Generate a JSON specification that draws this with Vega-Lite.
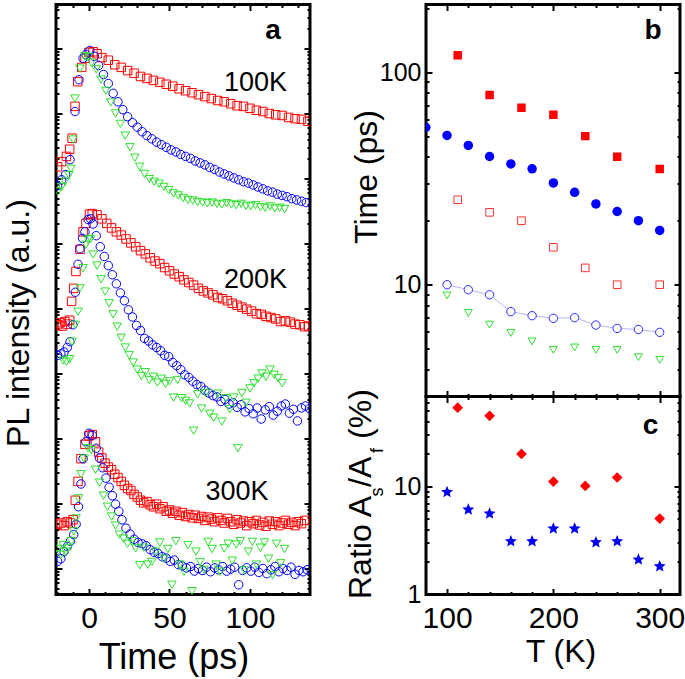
{
"$schema":"https://vega.github.io/schema/vega-lite/v6.json",
"padding":{"left":0,"top":1.5,"right":0,"bottom":0},
"background":"white",
"config":{
 "view":{"stroke":"black","strokeWidth":3},
 "font":"Liberation Sans",
 "axis":{"domain":false,"grid":false,"tickColor":"black","tickWidth":2,"labelColor":"black","titleColor":"black","labelFont":"Liberation Sans","titleFont":"Liberation Sans","titleFontWeight":"normal","labelFlush":false,"labelOverlap":false}
},
"datasets":{
"pl":[
{"g":"100K","s":"sq","t":-19.5,"y":6.18},{"g":"100K","s":"sq","t":-17,"y":6.26},{"g":"100K","s":"sq","t":-14,"y":6.34},{"g":"100K","s":"sq","t":-12,"y":6.45},{"g":"100K","s":"sq","t":-10.5,"y":6.62},{"g":"100K","s":"sq","t":-8.7,"y":7.11},{"g":"100K","s":"sq","t":-7,"y":7.49},{"g":"100K","s":"sq","t":-4.5,"y":7.71},{"g":"100K","s":"sq","t":-2.5,"y":7.85},{"g":"100K","s":"sq","t":0,"y":7.94},{"g":"100K","s":"sq","t":2.5,"y":7.95},{"g":"100K","s":"sq","t":5,"y":7.92},{"g":"100K","s":"sq","t":8,"y":7.86},{"g":"100K","s":"sq","t":12,"y":7.82},{"g":"100K","s":"sq","t":16,"y":7.75},{"g":"100K","s":"sq","t":20,"y":7.71},{"g":"100K","s":"sq","t":24,"y":7.66},{"g":"100K","s":"sq","t":28,"y":7.62},{"g":"100K","s":"sq","t":32,"y":7.57},{"g":"100K","s":"sq","t":36,"y":7.54},{"g":"100K","s":"sq","t":40,"y":7.51},{"g":"100K","s":"sq","t":44,"y":7.48},{"g":"100K","s":"sq","t":48,"y":7.45},{"g":"100K","s":"sq","t":52,"y":7.42},{"g":"100K","s":"sq","t":56,"y":7.38},{"g":"100K","s":"sq","t":60,"y":7.35},{"g":"100K","s":"sq","t":64,"y":7.32},{"g":"100K","s":"sq","t":68,"y":7.29},{"g":"100K","s":"sq","t":72,"y":7.26},{"g":"100K","s":"sq","t":76,"y":7.23},{"g":"100K","s":"sq","t":80,"y":7.2},{"g":"100K","s":"sq","t":84,"y":7.18},{"g":"100K","s":"sq","t":88,"y":7.15},{"g":"100K","s":"sq","t":92,"y":7.12},{"g":"100K","s":"sq","t":96,"y":7.11},{"g":"100K","s":"sq","t":100,"y":7.08},{"g":"100K","s":"sq","t":104,"y":7.05},{"g":"100K","s":"sq","t":108,"y":7.03},{"g":"100K","s":"sq","t":112,"y":7.0},{"g":"100K","s":"sq","t":116,"y":6.98},{"g":"100K","s":"sq","t":120,"y":6.97},{"g":"100K","s":"sq","t":124,"y":6.94},{"g":"100K","s":"sq","t":128,"y":6.92},{"g":"100K","s":"sq","t":132,"y":6.91},{"g":"100K","s":"sq","t":136,"y":6.88},
{"g":"100K","s":"ci","t":-19.5,"y":5.89},{"g":"100K","s":"ci","t":-17,"y":5.98},{"g":"100K","s":"ci","t":-14.5,"y":6.06},{"g":"100K","s":"ci","t":-11.8,"y":6.29},{"g":"100K","s":"ci","t":-8.7,"y":7.03},{"g":"100K","s":"ci","t":-6.2,"y":7.52},{"g":"100K","s":"ci","t":-3.7,"y":7.85},{"g":"100K","s":"ci","t":-1.9,"y":7.91},{"g":"100K","s":"ci","t":0.6,"y":7.97},{"g":"100K","s":"ci","t":3.3,"y":7.88},{"g":"100K","s":"ci","t":6,"y":7.74},{"g":"100K","s":"ci","t":9,"y":7.6},{"g":"100K","s":"ci","t":12,"y":7.46},{"g":"100K","s":"ci","t":15,"y":7.31},{"g":"100K","s":"ci","t":18,"y":7.18},{"g":"100K","s":"ci","t":21,"y":7.06},{"g":"100K","s":"ci","t":24,"y":6.95},{"g":"100K","s":"ci","t":27,"y":6.86},{"g":"100K","s":"ci","t":30,"y":6.79},{"g":"100K","s":"ci","t":33,"y":6.72},{"g":"100K","s":"ci","t":36,"y":6.66},{"g":"100K","s":"ci","t":39,"y":6.61},{"g":"100K","s":"ci","t":42,"y":6.56},{"g":"100K","s":"ci","t":45,"y":6.52},{"g":"100K","s":"ci","t":48,"y":6.48},{"g":"100K","s":"ci","t":51,"y":6.44},{"g":"100K","s":"ci","t":54,"y":6.41},{"g":"100K","s":"ci","t":57,"y":6.37},{"g":"100K","s":"ci","t":60,"y":6.34},{"g":"100K","s":"ci","t":63,"y":6.31},{"g":"100K","s":"ci","t":66,"y":6.27},{"g":"100K","s":"ci","t":69,"y":6.24},{"g":"100K","s":"ci","t":72,"y":6.21},{"g":"100K","s":"ci","t":75,"y":6.17},{"g":"100K","s":"ci","t":78,"y":6.14},{"g":"100K","s":"ci","t":81,"y":6.1},{"g":"100K","s":"ci","t":84,"y":6.07},{"g":"100K","s":"ci","t":87,"y":6.04},{"g":"100K","s":"ci","t":90,"y":6.01},{"g":"100K","s":"ci","t":93,"y":5.98},{"g":"100K","s":"ci","t":96,"y":5.95},{"g":"100K","s":"ci","t":99,"y":5.93},{"g":"100K","s":"ci","t":102,"y":5.9},{"g":"100K","s":"ci","t":105,"y":5.87},{"g":"100K","s":"ci","t":108,"y":5.84},{"g":"100K","s":"ci","t":111,"y":5.81},{"g":"100K","s":"ci","t":114,"y":5.79},{"g":"100K","s":"ci","t":117,"y":5.76},{"g":"100K","s":"ci","t":120,"y":5.74},{"g":"100K","s":"ci","t":123,"y":5.72},{"g":"100K","s":"ci","t":126,"y":5.69},{"g":"100K","s":"ci","t":129,"y":5.67},{"g":"100K","s":"ci","t":132,"y":5.65},{"g":"100K","s":"ci","t":135,"y":5.63},
{"g":"100K","s":"tr","t":-19.3,"y":5.8},{"g":"100K","s":"tr","t":-17,"y":5.87},{"g":"100K","s":"tr","t":-14.9,"y":5.95},{"g":"100K","s":"tr","t":-12.5,"y":6.05},{"g":"100K","s":"tr","t":-11.2,"y":6.15},{"g":"100K","s":"tr","t":-9.9,"y":6.6},{"g":"100K","s":"tr","t":-8.7,"y":7.23},{"g":"100K","s":"tr","t":-5.6,"y":7.69},{"g":"100K","s":"tr","t":-2.5,"y":7.88},{"g":"100K","s":"tr","t":-0.3,"y":7.87},{"g":"100K","s":"tr","t":1.5,"y":7.78},{"g":"100K","s":"tr","t":4.5,"y":7.68},{"g":"100K","s":"tr","t":7.5,"y":7.52},{"g":"100K","s":"tr","t":10.5,"y":7.35},{"g":"100K","s":"tr","t":13.5,"y":7.17},{"g":"100K","s":"tr","t":16.5,"y":7.0},{"g":"100K","s":"tr","t":19.5,"y":6.84},{"g":"100K","s":"tr","t":22.5,"y":6.66},{"g":"100K","s":"tr","t":25.5,"y":6.48},{"g":"100K","s":"tr","t":28.5,"y":6.32},{"g":"100K","s":"tr","t":31.5,"y":6.18},{"g":"100K","s":"tr","t":34.5,"y":6.07},{"g":"100K","s":"tr","t":37.5,"y":5.99},{"g":"100K","s":"tr","t":40.5,"y":5.95},{"g":"100K","s":"tr","t":43.5,"y":5.92},{"g":"100K","s":"tr","t":46.5,"y":5.87},{"g":"100K","s":"tr","t":49.5,"y":5.82},{"g":"100K","s":"tr","t":52.5,"y":5.77},{"g":"100K","s":"tr","t":55.5,"y":5.74},{"g":"100K","s":"tr","t":58.5,"y":5.7},{"g":"100K","s":"tr","t":61.5,"y":5.67},{"g":"100K","s":"tr","t":64.5,"y":5.66},{"g":"100K","s":"tr","t":67.5,"y":5.64},{"g":"100K","s":"tr","t":70.5,"y":5.63},{"g":"100K","s":"tr","t":73.5,"y":5.62},{"g":"100K","s":"tr","t":76.5,"y":5.63},{"g":"100K","s":"tr","t":79.5,"y":5.61},{"g":"100K","s":"tr","t":82.5,"y":5.6},{"g":"100K","s":"tr","t":85.5,"y":5.62},{"g":"100K","s":"tr","t":88.5,"y":5.6},{"g":"100K","s":"tr","t":91.5,"y":5.59},{"g":"100K","s":"tr","t":94.5,"y":5.61},{"g":"100K","s":"tr","t":97.5,"y":5.58},{"g":"100K","s":"tr","t":100.5,"y":5.57},{"g":"100K","s":"tr","t":103.5,"y":5.59},{"g":"100K","s":"tr","t":106.5,"y":5.56},{"g":"100K","s":"tr","t":109.5,"y":5.55},{"g":"100K","s":"tr","t":112.5,"y":5.57},{"g":"100K","s":"tr","t":115.5,"y":5.54},{"g":"100K","s":"tr","t":118.5,"y":5.55},{"g":"100K","s":"tr","t":121.5,"y":5.53},
{"g":"200K","s":"sq","t":-19.5,"y":3.75},{"g":"200K","s":"sq","t":-18,"y":3.78},{"g":"200K","s":"sq","t":-16.5,"y":3.73},{"g":"200K","s":"sq","t":-15,"y":3.8},{"g":"200K","s":"sq","t":-13.5,"y":3.76},{"g":"200K","s":"sq","t":-12,"y":3.82},{"g":"200K","s":"sq","t":-10.8,"y":4.11},{"g":"200K","s":"sq","t":-9.5,"y":4.31},{"g":"200K","s":"sq","t":-8.1,"y":4.57},{"g":"200K","s":"sq","t":-5.6,"y":4.91},{"g":"200K","s":"sq","t":-3.7,"y":5.18},{"g":"200K","s":"sq","t":-1.9,"y":5.31},{"g":"200K","s":"sq","t":0.3,"y":5.45},{"g":"200K","s":"sq","t":2,"y":5.46},{"g":"200K","s":"sq","t":5,"y":5.44},{"g":"200K","s":"sq","t":8,"y":5.38},{"g":"200K","s":"sq","t":11,"y":5.31},{"g":"200K","s":"sq","t":14,"y":5.24},{"g":"200K","s":"sq","t":17,"y":5.18},{"g":"200K","s":"sq","t":20,"y":5.13},{"g":"200K","s":"sq","t":23,"y":5.07},{"g":"200K","s":"sq","t":26,"y":5.01},{"g":"200K","s":"sq","t":29,"y":4.95},{"g":"200K","s":"sq","t":32,"y":4.89},{"g":"200K","s":"sq","t":35,"y":4.84},{"g":"200K","s":"sq","t":38,"y":4.78},{"g":"200K","s":"sq","t":41,"y":4.73},{"g":"200K","s":"sq","t":44,"y":4.69},{"g":"200K","s":"sq","t":47,"y":4.63},{"g":"200K","s":"sq","t":50,"y":4.58},{"g":"200K","s":"sq","t":53,"y":4.53},{"g":"200K","s":"sq","t":56,"y":4.49},{"g":"200K","s":"sq","t":59,"y":4.44},{"g":"200K","s":"sq","t":62,"y":4.4},{"g":"200K","s":"sq","t":65,"y":4.36},{"g":"200K","s":"sq","t":68,"y":4.31},{"g":"200K","s":"sq","t":71,"y":4.27},{"g":"200K","s":"sq","t":74,"y":4.24},{"g":"200K","s":"sq","t":77,"y":4.21},{"g":"200K","s":"sq","t":80,"y":4.17},{"g":"200K","s":"sq","t":83,"y":4.15},{"g":"200K","s":"sq","t":86,"y":4.12},{"g":"200K","s":"sq","t":89,"y":4.08},{"g":"200K","s":"sq","t":92,"y":4.05},{"g":"200K","s":"sq","t":95,"y":4.02},{"g":"200K","s":"sq","t":98,"y":3.99},{"g":"200K","s":"sq","t":101,"y":3.96},{"g":"200K","s":"sq","t":104,"y":3.92},{"g":"200K","s":"sq","t":107,"y":3.91},{"g":"200K","s":"sq","t":110,"y":3.88},{"g":"200K","s":"sq","t":113,"y":3.86},{"g":"200K","s":"sq","t":116,"y":3.84},{"g":"200K","s":"sq","t":119,"y":3.8},{"g":"200K","s":"sq","t":122,"y":3.81},{"g":"200K","s":"sq","t":125,"y":3.79},{"g":"200K","s":"sq","t":128,"y":3.76},{"g":"200K","s":"sq","t":131,"y":3.75},{"g":"200K","s":"sq","t":134,"y":3.72},{"g":"200K","s":"sq","t":136.5,"y":3.73},
{"g":"200K","s":"ci","t":-19.5,"y":3.28},{"g":"200K","s":"ci","t":-17.5,"y":3.3},{"g":"200K","s":"ci","t":-15.5,"y":3.33},{"g":"200K","s":"ci","t":-13.5,"y":3.4},{"g":"200K","s":"ci","t":-11.8,"y":3.49},{"g":"200K","s":"ci","t":-10,"y":3.75},{"g":"200K","s":"ci","t":-8.5,"y":4.25},{"g":"200K","s":"ci","t":-6.8,"y":4.68},{"g":"200K","s":"ci","t":-5.6,"y":4.92},{"g":"200K","s":"ci","t":-4,"y":5.08},{"g":"200K","s":"ci","t":-2.5,"y":5.18},{"g":"200K","s":"ci","t":-0.6,"y":5.37},{"g":"200K","s":"ci","t":1,"y":5.38},{"g":"200K","s":"ci","t":2.5,"y":5.3},{"g":"200K","s":"ci","t":4.5,"y":5.12},{"g":"200K","s":"ci","t":7,"y":4.95},{"g":"200K","s":"ci","t":9.5,"y":4.8},{"g":"200K","s":"ci","t":12,"y":4.66},{"g":"200K","s":"ci","t":14.5,"y":4.52},{"g":"200K","s":"ci","t":17,"y":4.38},{"g":"200K","s":"ci","t":19.5,"y":4.24},{"g":"200K","s":"ci","t":22,"y":4.12},{"g":"200K","s":"ci","t":24.5,"y":3.98},{"g":"200K","s":"ci","t":27,"y":3.87},{"g":"200K","s":"ci","t":29.5,"y":3.74},{"g":"200K","s":"ci","t":32,"y":3.66},{"g":"200K","s":"ci","t":34.5,"y":3.54},{"g":"200K","s":"ci","t":37,"y":3.5},{"g":"200K","s":"ci","t":39.5,"y":3.44},{"g":"200K","s":"ci","t":42,"y":3.4},{"g":"200K","s":"ci","t":44.5,"y":3.35},{"g":"200K","s":"ci","t":47,"y":3.28},{"g":"200K","s":"ci","t":49.5,"y":3.26},{"g":"200K","s":"ci","t":52,"y":3.17},{"g":"200K","s":"ci","t":54.5,"y":3.12},{"g":"200K","s":"ci","t":57,"y":3.06},{"g":"200K","s":"ci","t":59.5,"y":2.98},{"g":"200K","s":"ci","t":62,"y":2.94},{"g":"200K","s":"ci","t":64.5,"y":2.88},{"g":"200K","s":"ci","t":67,"y":2.83},{"g":"200K","s":"ci","t":69.5,"y":2.8},{"g":"200K","s":"ci","t":72,"y":2.74},{"g":"200K","s":"ci","t":74.5,"y":2.7},{"g":"200K","s":"ci","t":77,"y":2.66},{"g":"200K","s":"ci","t":79.5,"y":2.64},{"g":"200K","s":"ci","t":82,"y":2.57},{"g":"200K","s":"ci","t":84.5,"y":2.6},{"g":"200K","s":"ci","t":87,"y":2.53},{"g":"200K","s":"ci","t":89.5,"y":2.55},{"g":"200K","s":"ci","t":92,"y":2.48},{"g":"200K","s":"ci","t":94.5,"y":2.52},{"g":"200K","s":"ci","t":97,"y":2.41},{"g":"200K","s":"ci","t":99.5,"y":2.46},{"g":"200K","s":"ci","t":102,"y":2.38},{"g":"200K","s":"ci","t":104.5,"y":2.47},{"g":"200K","s":"ci","t":107,"y":2.3},{"g":"200K","s":"ci","t":109.5,"y":2.44},{"g":"200K","s":"ci","t":112,"y":2.49},{"g":"200K","s":"ci","t":114.5,"y":2.36},{"g":"200K","s":"ci","t":117,"y":2.42},{"g":"200K","s":"ci","t":119.5,"y":2.5},{"g":"200K","s":"ci","t":122,"y":2.53},{"g":"200K","s":"ci","t":124.5,"y":2.39},{"g":"200K","s":"ci","t":127,"y":2.45},{"g":"200K","s":"ci","t":129.5,"y":2.27},{"g":"200K","s":"ci","t":132,"y":2.47},{"g":"200K","s":"ci","t":134.5,"y":2.5},{"g":"200K","s":"ci","t":137,"y":2.46},
{"g":"200K","s":"tr","t":-16,"y":3.2},{"g":"200K","s":"tr","t":-14,"y":3.18},{"g":"200K","s":"tr","t":-12,"y":3.22},{"g":"200K","s":"tr","t":-10.5,"y":3.49},{"g":"200K","s":"tr","t":-8.5,"y":3.75},{"g":"200K","s":"tr","t":-6.8,"y":3.95},{"g":"200K","s":"tr","t":-5.6,"y":4.31},{"g":"200K","s":"tr","t":-3.7,"y":4.62},{"g":"200K","s":"tr","t":-1.9,"y":4.98},{"g":"200K","s":"tr","t":-0.6,"y":5.06},{"g":"200K","s":"tr","t":1,"y":5.07},{"g":"200K","s":"tr","t":2.5,"y":4.83},{"g":"200K","s":"tr","t":5,"y":4.66},{"g":"200K","s":"tr","t":7.5,"y":4.45},{"g":"200K","s":"tr","t":10,"y":4.26},{"g":"200K","s":"tr","t":12.5,"y":4.08},{"g":"200K","s":"tr","t":15,"y":3.91},{"g":"200K","s":"tr","t":17.5,"y":3.72},{"g":"200K","s":"tr","t":20,"y":3.55},{"g":"200K","s":"tr","t":22.5,"y":3.4},{"g":"200K","s":"tr","t":25,"y":3.28},{"g":"200K","s":"tr","t":27.5,"y":3.17},{"g":"200K","s":"tr","t":30,"y":3.06},{"g":"200K","s":"tr","t":32.5,"y":2.96},{"g":"200K","s":"tr","t":35,"y":3.02},{"g":"200K","s":"tr","t":37.5,"y":2.9},{"g":"200K","s":"tr","t":40,"y":2.95},{"g":"200K","s":"tr","t":42.5,"y":2.86},{"g":"200K","s":"tr","t":45,"y":2.92},{"g":"200K","s":"tr","t":47.5,"y":2.84},{"g":"200K","s":"tr","t":50,"y":2.88},{"g":"200K","s":"tr","t":52.5,"y":2.63},{"g":"200K","s":"tr","t":55,"y":2.9},{"g":"200K","s":"tr","t":57.5,"y":2.62},{"g":"200K","s":"tr","t":60,"y":2.58},{"g":"200K","s":"tr","t":62.5,"y":2.54},{"g":"200K","s":"tr","t":65,"y":2.12},{"g":"200K","s":"tr","t":67.5,"y":2.68},{"g":"200K","s":"tr","t":70,"y":2.46},{"g":"200K","s":"tr","t":72.5,"y":2.7},{"g":"200K","s":"tr","t":75,"y":2.38},{"g":"200K","s":"tr","t":77.5,"y":2.32},{"g":"200K","s":"tr","t":80,"y":2.69},{"g":"200K","s":"tr","t":82.5,"y":2.26},{"g":"200K","s":"tr","t":85,"y":2.62},{"g":"200K","s":"tr","t":87.5,"y":2.45},{"g":"200K","s":"tr","t":90,"y":2.63},{"g":"200K","s":"tr","t":92.5,"y":1.85},{"g":"200K","s":"tr","t":95,"y":2.7},{"g":"200K","s":"tr","t":97.5,"y":2.55},{"g":"200K","s":"tr","t":100,"y":2.77},{"g":"200K","s":"tr","t":102.5,"y":2.85},{"g":"200K","s":"tr","t":105,"y":2.92},{"g":"200K","s":"tr","t":107.5,"y":3.0},{"g":"200K","s":"tr","t":110,"y":2.95},{"g":"200K","s":"tr","t":112.5,"y":3.06},{"g":"200K","s":"tr","t":115,"y":2.98},{"g":"200K","s":"tr","t":117.5,"y":2.93},{"g":"200K","s":"tr","t":120,"y":2.85},
{"g":"300K","s":"sq","t":-19.5,"y":0.68},{"g":"300K","s":"sq","t":-17.5,"y":0.7},{"g":"300K","s":"sq","t":-15.5,"y":0.66},{"g":"300K","s":"sq","t":-13.5,"y":0.72},{"g":"300K","s":"sq","t":-11.5,"y":0.7},{"g":"300K","s":"sq","t":-9.9,"y":0.75},{"g":"300K","s":"sq","t":-8.5,"y":1.05},{"g":"300K","s":"sq","t":-6.8,"y":1.34},{"g":"300K","s":"sq","t":-5,"y":1.69},{"g":"300K","s":"sq","t":-2.5,"y":1.91},{"g":"300K","s":"sq","t":0,"y":2.04},{"g":"300K","s":"sq","t":2,"y":2.06},{"g":"300K","s":"sq","t":4,"y":1.95},{"g":"300K","s":"sq","t":6,"y":1.79},{"g":"300K","s":"sq","t":8,"y":1.7},{"g":"300K","s":"sq","t":10,"y":1.62},{"g":"300K","s":"sq","t":12,"y":1.56},{"g":"300K","s":"sq","t":14,"y":1.52},{"g":"300K","s":"sq","t":16,"y":1.45},{"g":"300K","s":"sq","t":18,"y":1.4},{"g":"300K","s":"sq","t":20,"y":1.34},{"g":"300K","s":"sq","t":22,"y":1.28},{"g":"300K","s":"sq","t":24,"y":1.23},{"g":"300K","s":"sq","t":26,"y":1.2},{"g":"300K","s":"sq","t":28,"y":1.14},{"g":"300K","s":"sq","t":30,"y":1.1},{"g":"300K","s":"sq","t":32,"y":1.05},{"g":"300K","s":"sq","t":34,"y":1.01},{"g":"300K","s":"sq","t":36,"y":1.03},{"g":"300K","s":"sq","t":38,"y":0.98},{"g":"300K","s":"sq","t":40,"y":0.95},{"g":"300K","s":"sq","t":42,"y":0.99},{"g":"300K","s":"sq","t":44,"y":0.92},{"g":"300K","s":"sq","t":46,"y":0.95},{"g":"300K","s":"sq","t":48,"y":0.88},{"g":"300K","s":"sq","t":50,"y":0.9},{"g":"300K","s":"sq","t":52,"y":0.85},{"g":"300K","s":"sq","t":54,"y":0.88},{"g":"300K","s":"sq","t":56,"y":0.82},{"g":"300K","s":"sq","t":58,"y":0.86},{"g":"300K","s":"sq","t":60,"y":0.8},{"g":"300K","s":"sq","t":62,"y":0.83},{"g":"300K","s":"sq","t":64,"y":0.78},{"g":"300K","s":"sq","t":66,"y":0.82},{"g":"300K","s":"sq","t":68,"y":0.77},{"g":"300K","s":"sq","t":70,"y":0.8},{"g":"300K","s":"sq","t":72,"y":0.74},{"g":"300K","s":"sq","t":74,"y":0.79},{"g":"300K","s":"sq","t":76,"y":0.76},{"g":"300K","s":"sq","t":78,"y":0.72},{"g":"300K","s":"sq","t":80,"y":0.78},{"g":"300K","s":"sq","t":82,"y":0.74},{"g":"300K","s":"sq","t":84,"y":0.7},{"g":"300K","s":"sq","t":86,"y":0.77},{"g":"300K","s":"sq","t":88,"y":0.72},{"g":"300K","s":"sq","t":90,"y":0.68},{"g":"300K","s":"sq","t":92,"y":0.75},{"g":"300K","s":"sq","t":94,"y":0.7},{"g":"300K","s":"sq","t":96,"y":0.73},{"g":"300K","s":"sq","t":98,"y":0.66},{"g":"300K","s":"sq","t":100,"y":0.72},{"g":"300K","s":"sq","t":102,"y":0.69},{"g":"300K","s":"sq","t":104,"y":0.74},{"g":"300K","s":"sq","t":106,"y":0.67},{"g":"300K","s":"sq","t":108,"y":0.71},{"g":"300K","s":"sq","t":110,"y":0.65},{"g":"300K","s":"sq","t":112,"y":0.73},{"g":"300K","s":"sq","t":114,"y":0.68},{"g":"300K","s":"sq","t":116,"y":0.72},{"g":"300K","s":"sq","t":118,"y":0.66},{"g":"300K","s":"sq","t":120,"y":0.7},{"g":"300K","s":"sq","t":122,"y":0.74},{"g":"300K","s":"sq","t":124,"y":0.68},{"g":"300K","s":"sq","t":126,"y":0.71},{"g":"300K","s":"sq","t":128,"y":0.66},{"g":"300K","s":"sq","t":130,"y":0.72},{"g":"300K","s":"sq","t":132,"y":0.69},{"g":"300K","s":"sq","t":134,"y":0.74},
{"g":"300K","s":"ci","t":-19.5,"y":0.11},{"g":"300K","s":"ci","t":-17.5,"y":0.15},{"g":"300K","s":"ci","t":-15.5,"y":0.26},{"g":"300K","s":"ci","t":-13.5,"y":0.34},{"g":"300K","s":"ci","t":-11.5,"y":0.42},{"g":"300K","s":"ci","t":-9.5,"y":0.52},{"g":"300K","s":"ci","t":-8,"y":0.68},{"g":"300K","s":"ci","t":-6.5,"y":0.95},{"g":"300K","s":"ci","t":-5,"y":1.3},{"g":"300K","s":"ci","t":-3.7,"y":1.69},{"g":"300K","s":"ci","t":-2,"y":1.95},{"g":"300K","s":"ci","t":0,"y":2.08},{"g":"300K","s":"ci","t":2,"y":2.05},{"g":"300K","s":"ci","t":4.5,"y":1.85},{"g":"300K","s":"ci","t":6.5,"y":1.7},{"g":"300K","s":"ci","t":8.5,"y":1.55},{"g":"300K","s":"ci","t":10.5,"y":1.39},{"g":"300K","s":"ci","t":12.5,"y":1.25},{"g":"300K","s":"ci","t":14.5,"y":1.12},{"g":"300K","s":"ci","t":16.5,"y":0.99},{"g":"300K","s":"ci","t":18.5,"y":0.88},{"g":"300K","s":"ci","t":20.5,"y":0.75},{"g":"300K","s":"ci","t":23,"y":0.62},{"g":"300K","s":"ci","t":25.5,"y":0.53},{"g":"300K","s":"ci","t":28,"y":0.45},{"g":"300K","s":"ci","t":30.5,"y":0.4},{"g":"300K","s":"ci","t":33,"y":0.38},{"g":"300K","s":"ci","t":35.5,"y":0.35},{"g":"300K","s":"ci","t":38,"y":0.29},{"g":"300K","s":"ci","t":40.5,"y":0.25},{"g":"300K","s":"ci","t":43,"y":0.23},{"g":"300K","s":"ci","t":45.5,"y":0.18},{"g":"300K","s":"ci","t":48,"y":0.16},{"g":"300K","s":"ci","t":50.5,"y":0.11},{"g":"300K","s":"ci","t":53,"y":0.13},{"g":"300K","s":"ci","t":55.5,"y":0.06},{"g":"300K","s":"ci","t":58,"y":0.04},{"g":"300K","s":"ci","t":60.5,"y":0.01},{"g":"300K","s":"ci","t":63,"y":0.03},{"g":"300K","s":"ci","t":65.5,"y":-0.04},{"g":"300K","s":"ci","t":68,"y":0.0},{"g":"300K","s":"ci","t":70.5,"y":-0.03},{"g":"300K","s":"ci","t":73,"y":0.02},{"g":"300K","s":"ci","t":75.5,"y":-0.05},{"g":"300K","s":"ci","t":78,"y":0.01},{"g":"300K","s":"ci","t":80.5,"y":-0.02},{"g":"300K","s":"ci","t":83,"y":0.03},{"g":"300K","s":"ci","t":85.5,"y":-0.04},{"g":"300K","s":"ci","t":88,"y":-0.01},{"g":"300K","s":"ci","t":90.5,"y":0.02},{"g":"300K","s":"ci","t":93,"y":-0.25},{"g":"300K","s":"ci","t":95.5,"y":-0.03},{"g":"300K","s":"ci","t":98,"y":0.01},{"g":"300K","s":"ci","t":100.5,"y":-0.04},{"g":"300K","s":"ci","t":103,"y":0.02},{"g":"300K","s":"ci","t":105.5,"y":-0.06},{"g":"300K","s":"ci","t":108,"y":0.0},{"g":"300K","s":"ci","t":110.5,"y":-0.08},{"g":"300K","s":"ci","t":113,"y":-0.02},{"g":"300K","s":"ci","t":115.5,"y":0.03},{"g":"300K","s":"ci","t":118,"y":-0.05},{"g":"300K","s":"ci","t":120.5,"y":0.0},{"g":"300K","s":"ci","t":123,"y":-0.03},{"g":"300K","s":"ci","t":125.5,"y":0.02},{"g":"300K","s":"ci","t":128,"y":-0.09},{"g":"300K","s":"ci","t":130.5,"y":-0.03},{"g":"300K","s":"ci","t":133,"y":-0.05},{"g":"300K","s":"ci","t":135.5,"y":-0.02},
{"g":"300K","s":"tr","t":-19.5,"y":0.3},{"g":"300K","s":"tr","t":-17.5,"y":0.21},{"g":"300K","s":"tr","t":-16,"y":0.36},{"g":"300K","s":"tr","t":-14.5,"y":0.26},{"g":"300K","s":"tr","t":-13,"y":0.31},{"g":"300K","s":"tr","t":-11,"y":0.42},{"g":"300K","s":"tr","t":-9.5,"y":0.57},{"g":"300K","s":"tr","t":-8,"y":0.77},{"g":"300K","s":"tr","t":-6.5,"y":1.08},{"g":"300K","s":"tr","t":-5,"y":1.45},{"g":"300K","s":"tr","t":-3,"y":1.69},{"g":"300K","s":"tr","t":-0.6,"y":1.85},{"g":"300K","s":"tr","t":1.5,"y":1.82},{"g":"300K","s":"tr","t":4,"y":1.52},{"g":"300K","s":"tr","t":6.5,"y":1.32},{"g":"300K","s":"tr","t":9,"y":1.12},{"g":"300K","s":"tr","t":11.5,"y":0.95},{"g":"300K","s":"tr","t":14,"y":0.8},{"g":"300K","s":"tr","t":16.5,"y":0.66},{"g":"300K","s":"tr","t":19,"y":0.52},{"g":"300K","s":"tr","t":21.5,"y":0.46},{"g":"300K","s":"tr","t":24,"y":0.38},{"g":"300K","s":"tr","t":26.5,"y":0.42},{"g":"300K","s":"tr","t":29,"y":0.31},{"g":"300K","s":"tr","t":31.5,"y":0.05},{"g":"300K","s":"tr","t":34,"y":0.32},{"g":"300K","s":"tr","t":36.5,"y":0.06},{"g":"300K","s":"tr","t":39,"y":0.1},{"g":"300K","s":"tr","t":41.5,"y":0.26},{"g":"300K","s":"tr","t":44,"y":0.4},{"g":"300K","s":"tr","t":46.5,"y":0.15},{"g":"300K","s":"tr","t":49,"y":0.3},{"g":"300K","s":"tr","t":51.5,"y":-0.25},{"g":"300K","s":"tr","t":54,"y":0.42},{"g":"300K","s":"tr","t":56.5,"y":0.06},{"g":"300K","s":"tr","t":59,"y":-0.05},{"g":"300K","s":"tr","t":61.5,"y":0.36},{"g":"300K","s":"tr","t":64,"y":-0.35},{"g":"300K","s":"tr","t":66.5,"y":0.26},{"g":"300K","s":"tr","t":69,"y":0.1},{"g":"300K","s":"tr","t":71.5,"y":-0.02},{"g":"300K","s":"tr","t":74,"y":0.41},{"g":"300K","s":"tr","t":76.5,"y":0.3},{"g":"300K","s":"tr","t":79,"y":0.06},{"g":"300K","s":"tr","t":81.5,"y":-0.05},{"g":"300K","s":"tr","t":84,"y":0.31},{"g":"300K","s":"tr","t":86.5,"y":0.38},{"g":"300K","s":"tr","t":89,"y":0.12},{"g":"300K","s":"tr","t":91.5,"y":0.37},{"g":"300K","s":"tr","t":94,"y":0.42},{"g":"300K","s":"tr","t":96.5,"y":-0.03},{"g":"300K","s":"tr","t":99,"y":0.26},{"g":"300K","s":"tr","t":101.5,"y":0.41},{"g":"300K","s":"tr","t":104,"y":0.06},{"g":"300K","s":"tr","t":106.5,"y":0.32},{"g":"300K","s":"tr","t":109,"y":0.4},{"g":"300K","s":"tr","t":111.5,"y":0.15},{"g":"300K","s":"tr","t":114,"y":-0.1},{"g":"300K","s":"tr","t":116.5,"y":0.38},{"g":"300K","s":"tr","t":119,"y":0.08},{"g":"300K","s":"tr","t":121.5,"y":0.3}
],
"tau":[
{"k":"rs","T":110,"v":120},{"k":"rs","T":140,"v":78},{"k":"rs","T":170,"v":68},{"k":"rs","T":200,"v":63},{"k":"rs","T":230,"v":50},{"k":"rs","T":260,"v":40},{"k":"rs","T":300,"v":35},
{"k":"bc","T":80,"v":55},{"k":"bc","T":100,"v":50.4},{"k":"bc","T":120,"v":45.2},{"k":"bc","T":140,"v":40.1},{"k":"bc","T":160,"v":37},{"k":"bc","T":180,"v":35.1},{"k":"bc","T":200,"v":30.1},{"k":"bc","T":220,"v":27.2},{"k":"bc","T":240,"v":24},{"k":"bc","T":260,"v":22.1},{"k":"bc","T":280,"v":20},{"k":"bc","T":300,"v":18},
{"k":"ro","T":110,"v":25.1},{"k":"ro","T":140,"v":21.9},{"k":"ro","T":170,"v":20},{"k":"ro","T":200,"v":15},{"k":"ro","T":230,"v":12},{"k":"ro","T":260,"v":10},{"k":"ro","T":300,"v":10},
{"k":"bo","T":100,"v":10},{"k":"bo","T":120,"v":9.47},{"k":"bo","T":140,"v":8.97},{"k":"bo","T":160,"v":7.47},{"k":"bo","T":180,"v":7.15},{"k":"bo","T":200,"v":6.95},{"k":"bo","T":220,"v":7.0},{"k":"bo","T":240,"v":6.46},{"k":"bo","T":260,"v":6.23},{"k":"bo","T":280,"v":6.16},{"k":"bo","T":300,"v":5.97},
{"k":"go","T":100,"v":8.9},{"k":"go","T":120,"v":7.36},{"k":"go","T":140,"v":6.49},{"k":"go","T":160,"v":5.93},{"k":"go","T":180,"v":5.41},{"k":"go","T":200,"v":4.94},{"k":"go","T":220,"v":5.07},{"k":"go","T":240,"v":4.94},{"k":"go","T":260,"v":4.94},{"k":"go","T":280,"v":4.56},{"k":"go","T":300,"v":4.43}
],
"ratio":[
{"k":"red","T":110,"v":53.6},{"k":"red","T":140,"v":45},{"k":"red","T":170,"v":20},{"k":"red","T":200,"v":11.1},{"k":"red","T":230,"v":10.1},{"k":"red","T":260,"v":12.1},{"k":"red","T":300,"v":5.04},
{"k":"blue","T":100,"v":8.86},{"k":"blue","T":120,"v":6.1},{"k":"blue","T":140,"v":5.6},{"k":"blue","T":160,"v":3.1},{"k":"blue","T":180,"v":3.1},{"k":"blue","T":200,"v":4.07},{"k":"blue","T":220,"v":4.07},{"k":"blue","T":240,"v":3.04},{"k":"blue","T":260,"v":3.1},{"k":"blue","T":280,"v":2.1},{"k":"blue","T":300,"v":1.82}
]
},
"spacing":116,
"bounds":"flush",
"hconcat":[
{
 "width":254,"height":590,
 "resolve":{"axis":{"x":"independent","y":"independent"}},
 "layer":[
  {"data":{"name":"pl"},
   "mark":{"type":"point","filled":false,"strokeWidth":1,"size":72,"opacity":1,"clip":true},
   "encoding":{
    "x":{"field":"t","type":"quantitative","scale":{"domain":[-20.5,137.3],"nice":false,"zero":false},
     "axis":{"orient":"bottom","values":[0,50,100],"tickSize":-6,"labelPadding":15,"labelFontSize":30,"title":"Time (ps)","titleFontSize":36,"titleX":117.5,"titleY":74,"titleBaseline":"alphabetic","titleAlign":"center"}},
    "y":{"field":"y","type":"quantitative","scale":{"domain":[-0.4,8.677],"nice":false,"zero":false},
     "axis":{"orient":"left","values":[0,1,2,3,4,5,6,7,8],"tickSize":-6,"labels":false,"title":"PL intensity (a.u.)","titleFontSize":32,"titleX":-28,"titleY":318,"titleBaseline":"alphabetic","titleAlign":"center","titleAngle":-90}},
    "shape":{"field":"s","type":"nominal","scale":{"domain":["sq","ci","tr"],"range":["square","circle","triangle-down"]},"legend":null},
    "stroke":{"field":"s","type":"nominal","scale":{"domain":["sq","ci","tr"],"range":["#ff0000","#0000ff","#2ee02e"]},"legend":null}
   }},
  {"data":{"name":"pl"},
   "mark":{"type":"point","opacity":0},
   "encoding":{
    "x":{"field":"t","type":"quantitative","scale":{"domain":[-20.5,137.3],"nice":false,"zero":false},"axis":{"orient":"top","values":[0,50,100],"tickSize":-6,"labels":false,"title":null}},
    "y":{"field":"y","type":"quantitative","scale":{"domain":[-0.4,8.677],"nice":false,"zero":false},"axis":{"orient":"right","values":[0,1,2,3,4,5,6,7,8],"tickSize":-6,"labels":false,"title":null}}
   }},
  {"data":{"name":"pl"},
   "mark":{"type":"point","opacity":0},
   "encoding":{
    "x":{"field":"t","type":"quantitative","scale":{"domain":[-20.5,137.3],"nice":false,"zero":false},"axis":{"orient":"bottom","values":[-20,-10,10,20,30,40,60,70,80,90,110,120,130],"tickSize":-3,"labels":false,"title":null}},
    "y":{"field":"y","type":"quantitative","scale":{"domain":[-0.4,8.677],"nice":false,"zero":false},"axis":{"orient":"left","values":[-0.301,-0.222,-0.155,-0.097,-0.046,0.301,0.477,0.602,0.699,0.778,0.845,0.903,0.954,1.301,1.477,1.602,1.699,1.778,1.845,1.903,1.954,2.301,2.477,2.602,2.699,2.778,2.845,2.903,2.954,3.301,3.477,3.602,3.699,3.778,3.845,3.903,3.954,4.301,4.477,4.602,4.699,4.778,4.845,4.903,4.954,5.301,5.477,5.602,5.699,5.778,5.845,5.903,5.954,6.301,6.477,6.602,6.699,6.778,6.845,6.903,6.954,7.301,7.477,7.602,7.699,7.778,7.845,7.903,7.954,8.301,8.477,8.602],"tickSize":-3,"labels":false,"title":null}}
   }},
  {"data":{"name":"pl"},
   "mark":{"type":"point","opacity":0},
   "encoding":{
    "x":{"field":"t","type":"quantitative","scale":{"domain":[-20.5,137.3],"nice":false,"zero":false},"axis":{"orient":"top","values":[-20,-10,10,20,30,40,60,70,80,90,110,120,130],"tickSize":-3,"labels":false,"title":null}},
    "y":{"field":"y","type":"quantitative","scale":{"domain":[-0.4,8.677],"nice":false,"zero":false},"axis":{"orient":"right","values":[-0.301,-0.222,-0.155,-0.097,-0.046,0.301,0.477,0.602,0.699,0.778,0.845,0.903,0.954,1.301,1.477,1.602,1.699,1.778,1.845,1.903,1.954,2.301,2.477,2.602,2.699,2.778,2.845,2.903,2.954,3.301,3.477,3.602,3.699,3.778,3.845,3.903,3.954,4.301,4.477,4.602,4.699,4.778,4.845,4.903,4.954,5.301,5.477,5.602,5.699,5.778,5.845,5.903,5.954,6.301,6.477,6.602,6.699,6.778,6.845,6.903,6.954,7.301,7.477,7.602,7.699,7.778,7.845,7.903,7.954,8.301,8.477,8.602],"tickSize":-3,"labels":false,"title":null}}
   }},
  {"data":{"values":[{"t":103.4,"y":7.34,"label":"100K"},{"t":103.4,"y":4.31,"label":"200K"},{"t":91.9,"y":1.06,"label":"300K"}]},
   "mark":{"type":"text","fontSize":27,"font":"Liberation Sans","align":"center","baseline":"alphabetic","color":"black"},
   "encoding":{
    "x":{"field":"t","type":"quantitative","scale":{"domain":[-20.5,137.3],"nice":false,"zero":false},"axis":null},
    "y":{"field":"y","type":"quantitative","scale":{"domain":[-0.4,8.677],"nice":false,"zero":false},"axis":null},
    "text":{"field":"label"}
   }},
  {"data":{"values":[{"t":114.3,"y":8.14,"label":"a"}]},
   "mark":{"type":"text","fontSize":28,"fontWeight":"bold","font":"Liberation Sans","align":"center","baseline":"alphabetic","color":"black"},
   "encoding":{
    "x":{"field":"t","type":"quantitative","scale":{"domain":[-20.5,137.3],"nice":false,"zero":false},"axis":null},
    "y":{"field":"y","type":"quantitative","scale":{"domain":[-0.4,8.677],"nice":false,"zero":false},"axis":null},
    "text":{"field":"label"}
   }}
 ]
},
{
 "spacing":0,
 "bounds":"flush",
 "vconcat":[
 {
  "width":254,"height":392,
  "resolve":{"axis":{"x":"independent","y":"independent"}},
  "layer":[
   {"data":{"name":"tau"},"transform":[{"filter":"datum.k === 'bo'"}],
    "mark":{"type":"line","stroke":"#b4b4f0","strokeWidth":1,"clip":true},
    "encoding":{
     "x":{"field":"T","type":"quantitative","scale":{"domain":[80.2,319.1],"nice":false,"zero":false},"axis":null},
     "y":{"field":"v","type":"quantitative","scale":{"type":"log","domain":[2.98,208],"nice":false},"axis":null}
    }},
   {"data":{"name":"tau"},"transform":[{"filter":"datum.k === 'rs'"}],
    "mark":{"type":"point","shape":"square","filled":true,"fill":"#ff0000","strokeWidth":0,"size":72,"opacity":1,"clip":true},
    "encoding":{
     "x":{"field":"T","type":"quantitative","scale":{"domain":[80.2,319.1],"nice":false,"zero":false},"axis":{"orient":"bottom","values":[100,200,300],"tickSize":-6,"labels":false,"title":null}},
     "y":{"field":"v","type":"quantitative","scale":{"type":"log","domain":[2.98,208],"nice":false},"axis":{"orient":"left","values":[10,100],"tickSize":-6,"labelPadding":11,"labelFontSize":25,"title":"Time (ps)","titleFontSize":32,"titleX":-50,"titleY":172,"titleBaseline":"alphabetic","titleAlign":"center","titleAngle":-90}}
    }},
   {"data":{"name":"tau"},"transform":[{"filter":"datum.k === 'bc'"}],
    "mark":{"type":"point","shape":"circle","filled":true,"fill":"#0000ff","strokeWidth":0,"size":90,"opacity":1,"clip":true},
    "encoding":{
     "x":{"field":"T","type":"quantitative","scale":{"domain":[80.2,319.1],"nice":false,"zero":false},"axis":null},
     "y":{"field":"v","type":"quantitative","scale":{"type":"log","domain":[2.98,208],"nice":false},"axis":null}
    }},
   {"data":{"name":"tau"},"transform":[{"filter":"datum.k === 'ro'"}],
    "mark":{"type":"point","shape":"square","filled":false,"stroke":"#ff3030","strokeWidth":1,"size":58,"opacity":1,"clip":true},
    "encoding":{
     "x":{"field":"T","type":"quantitative","scale":{"domain":[80.2,319.1],"nice":false,"zero":false},"axis":null},
     "y":{"field":"v","type":"quantitative","scale":{"type":"log","domain":[2.98,208],"nice":false},"axis":null}
    }},
   {"data":{"name":"tau"},"transform":[{"filter":"datum.k === 'bo'"}],
    "mark":{"type":"point","shape":"circle","filled":true,"fill":"white","stroke":"#2a2aff","strokeWidth":1,"size":70,"opacity":1,"clip":true},
    "encoding":{
     "x":{"field":"T","type":"quantitative","scale":{"domain":[80.2,319.1],"nice":false,"zero":false},"axis":null},
     "y":{"field":"v","type":"quantitative","scale":{"type":"log","domain":[2.98,208],"nice":false},"axis":null}
    }},
   {"data":{"name":"tau"},"transform":[{"filter":"datum.k === 'go'"}],
    "mark":{"type":"point","shape":"triangle-down","filled":false,"stroke":"#2ee02e","strokeWidth":1,"size":62,"opacity":1,"clip":true},
    "encoding":{
     "x":{"field":"T","type":"quantitative","scale":{"domain":[80.2,319.1],"nice":false,"zero":false},"axis":null},
     "y":{"field":"v","type":"quantitative","scale":{"type":"log","domain":[2.98,208],"nice":false},"axis":null}
    }},
   {"data":{"name":"tau"},
    "mark":{"type":"point","opacity":0},
    "encoding":{
     "x":{"field":"T","type":"quantitative","scale":{"domain":[80.2,319.1],"nice":false,"zero":false},"axis":{"orient":"top","values":[100,200,300],"tickSize":-6,"labels":false,"title":null}},
     "y":{"field":"v","type":"quantitative","scale":{"type":"log","domain":[2.98,208],"nice":false},"axis":{"orient":"right","values":[10,100],"tickSize":-6,"labels":false,"title":null}}
    }},
   {"data":{"name":"tau"},
    "mark":{"type":"point","opacity":0},
    "encoding":{
     "x":{"field":"T","type":"quantitative","scale":{"domain":[80.2,319.1],"nice":false,"zero":false},"axis":{"orient":"bottom","values":[120,140,160,180,220,240,260,280],"tickSize":-3,"labels":false,"title":null}},
     "y":{"field":"v","type":"quantitative","scale":{"type":"log","domain":[2.98,208],"nice":false},"axis":{"orient":"left","values":[3,4,5,6,7,8,9,20,30,40,50,60,70,80,90,200],"tickSize":-3,"labels":false,"title":null}}
    }},
   {"data":{"name":"tau"},
    "mark":{"type":"point","opacity":0},
    "encoding":{
     "x":{"field":"T","type":"quantitative","scale":{"domain":[80.2,319.1],"nice":false,"zero":false},"axis":{"orient":"top","values":[120,140,160,180,220,240,260,280],"tickSize":-3,"labels":false,"title":null}},
     "y":{"field":"v","type":"quantitative","scale":{"type":"log","domain":[2.98,208],"nice":false},"axis":{"orient":"right","values":[3,4,5,6,7,8,9,20,30,40,50,60,70,80,90,200],"tickSize":-3,"labels":false,"title":null}}
    }},
   {"data":{"values":[{"T":293.8,"v":142.6,"label":"b"}]},
    "mark":{"type":"text","fontSize":28,"fontWeight":"bold","font":"Liberation Sans","align":"center","baseline":"alphabetic","color":"black"},
    "encoding":{
     "x":{"field":"T","type":"quantitative","scale":{"domain":[80.2,319.1],"nice":false,"zero":false},"axis":null},
     "y":{"field":"v","type":"quantitative","scale":{"type":"log","domain":[2.98,208],"nice":false},"axis":null},
     "text":{"field":"label"}
    }}
  ]
 },
 {
  "width":254,"height":198,
  "resolve":{"axis":{"x":"independent","y":"independent"}},
  "layer":[
   {"data":{"name":"ratio"},"transform":[{"filter":"datum.k === 'red'"}],
    "mark":{"type":"point","shape":"diamond","filled":true,"fill":"#ff0000","strokeWidth":0,"size":115,"opacity":1,"clip":true},
    "encoding":{
     "x":{"field":"T","type":"quantitative","scale":{"domain":[80.2,319.1],"nice":false,"zero":false},"axis":{"orient":"bottom","values":[100,200,300],"tickSize":-6,"labelPadding":15,"labelFontSize":30,"title":"T (K)","titleFontSize":32,"titleX":134.5,"titleY":67,"titleBaseline":"alphabetic","titleAlign":"center"}},
     "y":{"field":"v","type":"quantitative","scale":{"type":"log","domain":[1,68],"nice":false},"axis":{"orient":"left","values":[1,10],"tickSize":-6,"labelPadding":11,"labelFontSize":25,"title":"Ratio A\u00a0/A\u00a0\u00a0(%)","titleFontSize":32,"titleX":-56,"titleY":202,"titleBaseline":"alphabetic","titleAlign":"left","titleAngle":-90}}
    }},
   {"data":{"name":"ratio"},"transform":[{"filter":"datum.k === 'blue'"}],
    "mark":{"type":"point","shape":"M0,-1L0.264,-0.364L0.951,-0.309L0.428,0.139L0.588,0.809L0,0.45L-0.588,0.809L-0.428,0.139L-0.951,-0.309L-0.264,-0.364Z","filled":true,"fill":"#0000ee","strokeWidth":0,"size":160,"opacity":1,"clip":true},
    "encoding":{
     "x":{"field":"T","type":"quantitative","scale":{"domain":[80.2,319.1],"nice":false,"zero":false},"axis":null},
     "y":{"field":"v","type":"quantitative","scale":{"type":"log","domain":[1,68],"nice":false},"axis":null}
    }},
   {"data":{"name":"ratio"},
    "mark":{"type":"point","opacity":0},
    "encoding":{
     "x":{"field":"T","type":"quantitative","scale":{"domain":[80.2,319.1],"nice":false,"zero":false},"axis":{"orient":"top","values":[100,200,300],"tickSize":-6,"labels":false,"title":null}},
     "y":{"field":"v","type":"quantitative","scale":{"type":"log","domain":[1,68],"nice":false},"axis":{"orient":"right","values":[1,10],"tickSize":-6,"labels":false,"title":null}}
    }},
   {"data":{"name":"ratio"},
    "mark":{"type":"point","opacity":0},
    "encoding":{
     "x":{"field":"T","type":"quantitative","scale":{"domain":[80.2,319.1],"nice":false,"zero":false},"axis":{"orient":"bottom","values":[120,140,160,180,220,240,260,280],"tickSize":-3,"labels":false,"title":null}},
     "y":{"field":"v","type":"quantitative","scale":{"type":"log","domain":[1,68],"nice":false},"axis":{"orient":"left","values":[2,3,4,5,6,7,8,9,20,30,40,50,60],"tickSize":-3,"labels":false,"title":"s","titleFontSize":18,"titleX":-44,"titleY":95,"titleBaseline":"alphabetic","titleAlign":"center","titleAngle":-90}}
    }},
   {"data":{"name":"ratio"},
    "mark":{"type":"point","opacity":0},
    "encoding":{
     "x":{"field":"T","type":"quantitative","scale":{"domain":[80.2,319.1],"nice":false,"zero":false},"axis":{"orient":"top","values":[120,140,160,180,220,240,260,280],"tickSize":-3,"labels":false,"title":null}},
     "y":{"field":"v","type":"quantitative","scale":{"type":"log","domain":[1,68],"nice":false},"axis":{"orient":"right","values":[2,3,4,5,6,7,8,9,20,30,40,50,60],"tickSize":-3,"labels":false,"title":null}}
    }},
   {"data":{"name":"ratio"},
    "mark":{"type":"point","opacity":0},
    "encoding":{
     "x":{"field":"T","type":"quantitative","scale":{"domain":[80.2,319.1],"nice":false,"zero":false},"axis":null},
     "y":{"field":"v","type":"quantitative","scale":{"type":"log","domain":[1,68],"nice":false},"axis":{"orient":"left","ticks":false,"labels":false,"title":"f","titleFontSize":18,"titleX":-44,"titleY":53.5,"titleBaseline":"alphabetic","titleAlign":"center","titleAngle":-90}}
    }},
   {"data":{"values":[{"T":291.4,"v":30.3,"label":"c"}]},
    "mark":{"type":"text","fontSize":28,"fontWeight":"bold","font":"Liberation Sans","align":"center","baseline":"alphabetic","color":"black"},
    "encoding":{
     "x":{"field":"T","type":"quantitative","scale":{"domain":[80.2,319.1],"nice":false,"zero":false},"axis":null},
     "y":{"field":"v","type":"quantitative","scale":{"type":"log","domain":[1,68],"nice":false},"axis":null},
     "text":{"field":"label"}
    }}
  ]
 }
 ]
}
]
}
